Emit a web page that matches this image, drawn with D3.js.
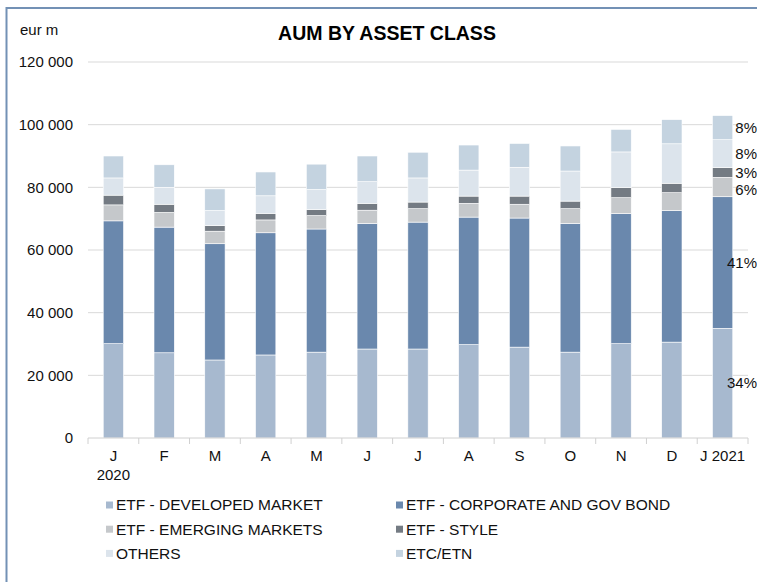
<!DOCTYPE html>
<html>
<head>
<meta charset="UTF-8">
<title>AUM by asset class</title>
<script src="https://d3js.org/d3.v7.min.js"></script>
<style>
  body { margin: 0; padding: 0; background: #fff; overflow: hidden; }
  svg { display: block; font-family: Arial, "Liberation Sans", sans-serif; }
</style>
</head>
<body>
<svg id="chart" width="757" height="582"></svg>
<script>
// month labels (first line / second line)
const months = ["J", "F", "M", "A", "M", "J", "J", "A", "S", "O", "N", "D", "J 2021"];
const subLabels = ["2020", "", "", "", "", "", "", "", "", "", "", "", ""];

const seriesNames = [
  "ETF - DEVELOPED MARKET",
  "ETF - CORPORATE AND GOV BOND",
  "ETF - EMERGING MARKETS",
  "ETF - STYLE",
  "OTHERS",
  "ETC/ETN"
];
const colors = ["#a7b9cf", "#6a88ad", "#c5c8cb", "#747b83", "#dce4ec", "#c4d3e0"];

// eur m
const developed = [30100, 27200, 24900, 26500, 27400, 28400, 28400, 29800, 29000, 27400, 30100, 30600, 35000];
const bonds     = [39200, 40100, 37100, 39000, 39300, 40100, 40500, 40700, 41200, 41100, 41500, 42000, 42000];
const emerging  = [5100, 4700, 4000, 4100, 4300, 4200, 4300, 4400, 4400, 4700, 5100, 5700, 6200];
const style     = [3100, 2600, 1800, 2100, 1900, 2200, 2100, 2300, 2600, 2400, 3200, 3000, 3100];
const others    = [5500, 5400, 4800, 5600, 6400, 6900, 7700, 8300, 9200, 9600, 11400, 12600, 8900];
const etcEtn    = [7000, 7200, 6900, 7600, 8100, 8200, 8200, 8000, 7600, 8000, 7200, 7700, 7700];

const shareLabels = ["34%", "41%", "6%", "3%", "8%", "8%"];
const yTicks = [0, 20000, 40000, 60000, 80000, 100000, 120000];

const svg = d3.select("#chart");
const margin = {top: 62, right: 9, bottom: 144, left: 88};
const width = 757 - margin.left - margin.right;
const height = 582 - margin.top - margin.bottom;

// outer frame (only left and top edges are inside the picture)
svg.append("path")
  .attr("d", "M6.5,582V8H757")
  .attr("fill", "none")
  .attr("stroke", "#7391b5")
  .attr("stroke-width", 2);

svg.append("text")
  .attr("x", 20).attr("y", 35)
  .attr("font-size", 15)
  .attr("fill", "#111")
  .text("eur m");

svg.append("text")
  .attr("x", 387).attr("y", 40)
  .attr("text-anchor", "middle")
  .attr("font-size", 19.5)
  .attr("font-weight", "bold")
  .attr("fill", "#000")
  .text("AUM BY ASSET CLASS");

const g = svg.append("g").attr("transform", `translate(${margin.left},${margin.top})`);

const idx = d3.range(months.length);
const x = d3.scaleBand().domain(idx).range([0, width]).paddingInner(0.6).paddingOuter(0.3);
const y = d3.scaleLinear().domain([0, 120000]).range([height, 0]);

// gridlines
g.append("g")
  .selectAll("line")
  .data(yTicks.filter(d => d > 0))
  .join("line")
  .attr("x1", 0).attr("x2", width)
  .attr("y1", d => y(d)).attr("y2", d => y(d))
  .attr("stroke", "#d9d9d9");

// y labels
g.append("g")
  .selectAll("text")
  .data(yTicks)
  .join("text")
  .attr("x", -15)
  .attr("y", d => y(d))
  .attr("dy", "0.35em")
  .attr("text-anchor", "end")
  .attr("font-size", 15)
  .attr("fill", "#111")
  .text(d => d3.format(",")(d).replace(/,/g, " "));

// stacked bars
const rows = idx.map(i => ({
  i,
  s0: developed[i], s1: bonds[i], s2: emerging[i], s3: style[i], s4: others[i], s5: etcEtn[i]
}));
const stack = d3.stack().keys(["s0", "s1", "s2", "s3", "s4", "s5"]);
const layers = stack(rows);

g.append("g")
  .selectAll("g")
  .data(layers)
  .join("g")
  .attr("fill", (d, k) => colors[k])
  .selectAll("rect")
  .data(d => d)
  .join("rect")
  .attr("x", d => x(d.data.i))
  .attr("width", x.bandwidth())
  .attr("y", d => y(d[1]))
  .attr("height", d => y(d[0]) - y(d[1]))
  .attr("stroke", "#fff")
  .attr("stroke-width", 0.6);

// x axis
const step = width / months.length;
const xAxis = g.append("g").attr("transform", `translate(0,${height})`);
xAxis.append("line")
  .attr("x1", 0).attr("x2", width)
  .attr("stroke", "#d0d0d0");
xAxis.selectAll(".tk")
  .data(d3.range(months.length + 1))
  .join("line")
  .attr("class", "tk")
  .attr("x1", d => d * step).attr("x2", d => d * step)
  .attr("y1", 0).attr("y2", 6)
  .attr("stroke", "#d0d0d0");
xAxis.selectAll(".ml")
  .data(idx)
  .join("text")
  .attr("class", "ml")
  .attr("x", d => x(d) + x.bandwidth() / 2)
  .attr("y", 23)
  .attr("text-anchor", "middle")
  .attr("font-size", 15)
  .attr("fill", "#111")
  .text(d => months[d]);
xAxis.selectAll(".sl")
  .data(idx.filter(d => subLabels[d]))
  .join("text")
  .attr("class", "sl")
  .attr("x", d => x(d) + x.bandwidth() / 2)
  .attr("y", 42)
  .attr("text-anchor", "middle")
  .attr("font-size", 15)
  .attr("fill", "#111")
  .text(d => subLabels[d]);

// share labels for last month, mid-segment, pushed apart when too close
const last = layers.map(l => l[months.length - 1]);
const labelY = last.map(d => y((d[0] + d[1]) / 2));
for (let k = labelY.length - 2; k >= 0; k--) {
  if (labelY[k] - labelY[k + 1] < 17) labelY[k] = labelY[k + 1] + 17;
}
g.append("g")
  .selectAll("text")
  .data(last)
  .join("text")
  .attr("x", 757 - margin.left)
  .attr("y", (d, k) => labelY[k])
  .attr("dy", "0.35em")
  .attr("text-anchor", "end")
  .attr("font-size", 15)
  .attr("fill", "#111")
  .text((d, k) => shareLabels[k]);

// legend
const legend = svg.append("g");
const items = legend.selectAll("g")
  .data(seriesNames)
  .join("g")
  .attr("transform", (d, k) => `translate(${k % 2 === 0 ? 106 : 396},${505 + Math.floor(k / 2) * 24.2})`);
items.append("rect")
  .attr("x", 0).attr("y", -3.5)
  .attr("width", 7).attr("height", 7)
  .attr("fill", (d, k) => colors[k]);
items.append("text")
  .attr("x", 10)
  .attr("dy", "0.35em")
  .attr("font-size", 15.5)
  .attr("fill", "#111")
  .text(d => d);
</script>
</body>
</html>
